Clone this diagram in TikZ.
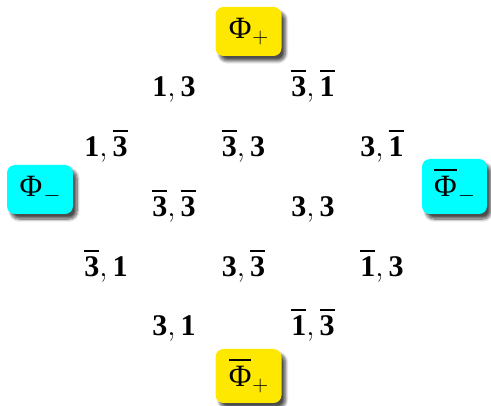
\documentclass[tikz,border=0pt]{standalone}
\usepackage{fix-cm}
\usepackage{fontspec}
\setmainfont{Liberation Serif}
\usetikzlibrary{shadows.blur}
\definecolor{boxyellow}{RGB}{255,232,0}
\definecolor{boxcyan}{RGB}{0,255,255}
\newcommand{\barit}[1]{\setbox0\hbox{#1}\rlap{\rule[\dimexpr\ht0+0.17em\relax]{\wd0}{0.055em}}\box0}
\newcommand{\bb}[1]{\mbox{\bfseries #1}}
\newcommand{\ob}[1]{\mbox{\bfseries\barit{#1}}}
\newcommand{\oPhi}{\barit{Φ}}
\newcommand{\lowsub}[1]{\kern1pt\raisebox{-5pt}{\fontsize{22}{24}\selectfont$#1$}}
\begin{document}
\begin{tikzpicture}[x=1pt,y=-1pt,
  phibox/.style={rounded corners=8pt, minimum width=66pt, minimum height=49pt,
    inner sep=0pt, font=\fontsize{31}{36}\selectfont,
    blur shadow={shadow xshift=4pt, shadow yshift=-5pt, shadow opacity=70,
      shadow blur radius=3pt, shadow blur steps=8}},
  lab/.style={anchor=base, inner sep=0pt, font=\fontsize{30}{36}\selectfont}]
\useasboundingbox (0,0) rectangle (491,406);
\node[phibox, fill=boxyellow] (pp) at (248.5,31.5) {Φ\lowsub{+}};
\node[phibox, fill=boxcyan] (pm) at (40,189.5) {Φ\lowsub{-}};
\node[phibox, fill=boxcyan, minimum width=65pt, minimum height=55pt] (pbm) at (454.5,186.5) {\oPhi\lowsub{-}};
\node[phibox, fill=boxyellow, minimum height=54pt] (pbp) at (248.5,376) {\oPhi\lowsub{+}};
% row 1
\node[lab] (a1) at (174,97) {$\bb{1},\bb{3}$};
\node[lab] (a2) at (313,97) {$\ob{3},\ob{1}$};
% row 2
\node[lab] (b1) at (106,157) {$\bb{1},\ob{3}$};
\node[lab] (b2) at (243.5,157) {$\ob{3},\bb{3}$};
\node[lab] (b3) at (382,157) {$\bb{3},\ob{1}$};
% row 3
\node[lab] (c1) at (174,217) {$\ob{3},\ob{3}$};
\node[lab] (c2) at (313,217) {$\bb{3},\bb{3}$};
% row 4
\node[lab] (d1) at (106,277) {$\ob{3},\bb{1}$};
\node[lab] (d2) at (243.5,277) {$\bb{3},\ob{3}$};
\node[lab] (d3) at (382,277) {$\ob{1},\bb{3}$};
% row 5
\node[lab] (e1) at (174,336) {$\bb{3},\bb{1}$};
\node[lab] (e2) at (313,336) {$\ob{1},\ob{3}$};
\end{tikzpicture}
\end{document}
